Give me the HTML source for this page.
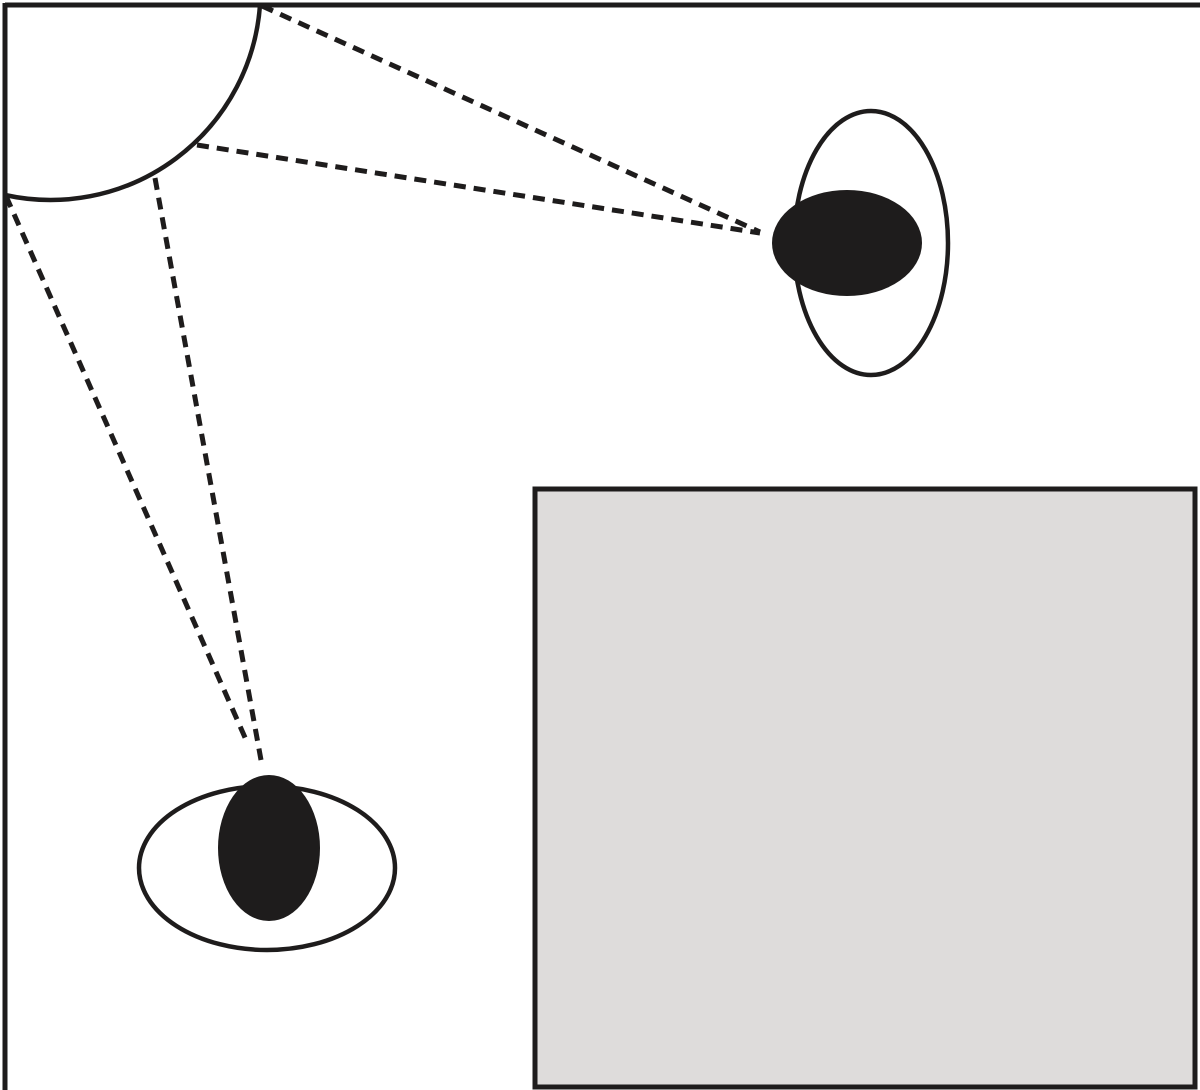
<!DOCTYPE html>
<html><head><meta charset="utf-8"><style>html,body{margin:0;padding:0;background:#fff}svg{display:block}</style></head>
<body>
<svg width="1200" height="1090" viewBox="0 0 1200 1090" xmlns="http://www.w3.org/2000/svg">
<rect width="1200" height="1090" fill="#fff"/>
<line x1="5" y1="5" x2="1200" y2="5" stroke="#1e1c1c" stroke-width="5"/>
<line x1="5" y1="3" x2="5" y2="1090" stroke="#1e1c1c" stroke-width="5"/>
<path d="M260,5 A210,210 0 0 1 5,195" fill="none" stroke="#1e1c1c" stroke-width="4.5"/>
<g stroke="#1e1c1c" stroke-width="5" stroke-dasharray="12,8" fill="none">
<line x1="262" y1="6" x2="760" y2="232"/>
<line x1="197" y1="145" x2="760" y2="233"/>
<line x1="155" y1="178" x2="261" y2="760"/>
<line x1="6" y1="196" x2="247" y2="742"/>
</g>
<ellipse cx="871" cy="243" rx="77" ry="132" fill="none" stroke="#1e1c1c" stroke-width="4.5"/>
<ellipse cx="847" cy="243" rx="75" ry="53" fill="#1e1c1c"/>
<ellipse cx="267" cy="868" rx="128" ry="82" fill="none" stroke="#1e1c1c" stroke-width="4.5"/>
<ellipse cx="269" cy="848" rx="51" ry="73" fill="#1e1c1c"/>
<rect x="535" y="489" width="660" height="598" fill="#dedcdb" stroke="#1e1c1c" stroke-width="5"/>
</svg>
</body></html>
